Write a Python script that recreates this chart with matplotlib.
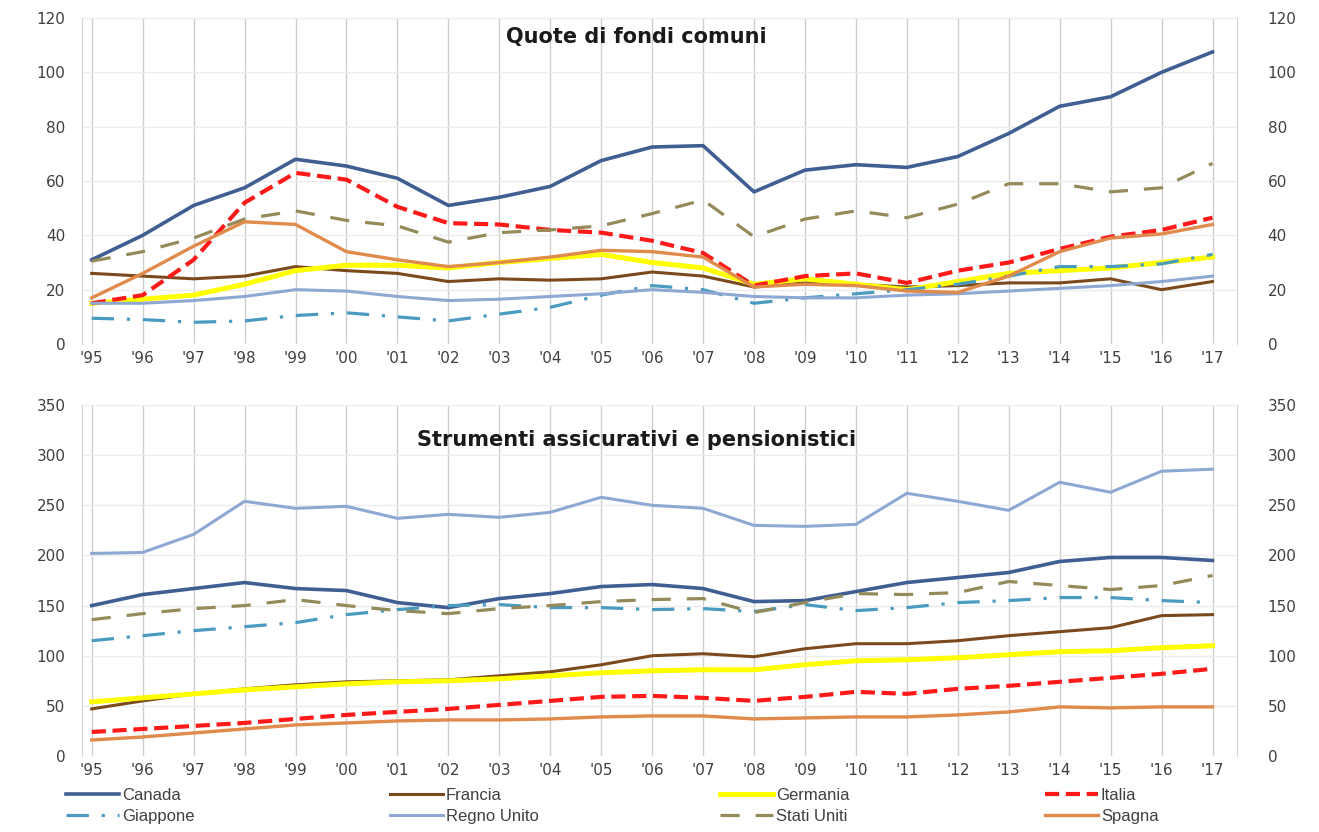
import matplotlib
matplotlib.use("Agg")
import matplotlib.pyplot as plt

years = ["'95", "'96", "'97", "'98", "'99", "'00", "'01", "'02", "'03", "'04", "'05", "'06",
         "'07", "'08", "'09", "'10", "'11", "'12", "'13", "'14", "'15", "'16", "'17"]
countries = ["Canada", "Francia", "Germania", "Italia", "Giappone", "Regno Unito", "Stati Uniti", "Spagna"]

# Quote di fondi comuni
canada_f = [31, 40, 51, 57.5, 68, 65.5, 61, 51, 54, 58, 67.5, 72.5, 73, 56, 64, 66, 65, 69, 77.5, 87.5, 91, 100, 107.5]
francia_f = [26, 25, 24, 25, 28.5, 27, 26, 23, 24, 23.5, 24, 26.5, 25, 21, 22.5, 22, 21, 21.5, 22.5, 22.5, 24, 20, 23]
germania_f = [15, 16.5, 18, 22, 27, 29, 29, 28, 30, 31.5, 33, 30, 28, 22, 24, 22, 20, 23, 26, 27, 28, 30, 32]
italia_f = [15, 18, 31, 52, 63, 60.5, 50.5, 44.5, 44, 42, 41, 38, 33.5, 21.5, 25, 26, 22.5, 27, 30, 35, 39.5, 42, 46.5]
giappone_f = [9.5, 9, 8, 8.5, 10.5, 11.5, 10, 8.5, 11, 13.5, 18, 21.5, 20, 15, 17, 18.5, 20, 22, 25, 28.5, 28.5, 29.5, 33]
regno_f = [15, 15, 16, 17.5, 20, 19.5, 17.5, 16, 16.5, 17.5, 18.5, 20, 19, 17.5, 17, 17, 18, 18.5, 19.5, 20.5, 21.5, 23, 25]
stati_f = [30.5, 34, 39, 46, 49, 45.5, 43.5, 37.5, 41, 42, 43.5, 48, 53, 39.5, 46, 49, 46.5, 51.5, 59, 59, 56, 57.5, 66.5]
spagna_f = [17, 26, 36, 45, 44, 34, 31, 28.5, 30, 32, 34.5, 34, 32, 21, 22, 21.5, 19.5, 19, 25, 34, 39, 40.5, 44]

# Strumenti assicurativi e pensionistici
canada_a = [150, 161, 167, 173, 167, 165, 153, 148, 157, 162, 169, 171, 167, 154, 155, 164, 173, 178, 183, 194, 198, 198, 195]
francia_a = [47, 55, 62, 67, 71, 74, 75, 76, 80, 84, 91, 100, 102, 99, 107, 112, 112, 115, 120, 124, 128, 140, 141]
germania_a = [54, 58, 62, 66, 69, 72, 74, 75, 77, 80, 83, 85, 86, 86, 91, 95, 96, 98, 101, 104, 105, 108, 110]
italia_a = [24, 27, 30, 33, 37, 41, 44, 47, 51, 55, 59, 60, 58, 55, 59, 64, 62, 67, 70, 74, 78, 82, 87]
giappone_a = [115, 120, 125, 129, 133, 141, 146, 150, 151, 148, 148, 146, 147, 144, 151, 145, 148, 153, 155, 158, 158, 155, 153]
regno_a = [202, 203, 221, 254, 247, 249, 237, 241, 238, 243, 258, 250, 247, 230, 229, 231, 262, 254, 245, 273, 263, 284, 286]
stati_a = [136, 142, 147, 150, 156, 150, 145, 142, 147, 150, 154, 156, 157, 143, 153, 162, 161, 163, 174, 170, 166, 170, 180]
spagna_a = [16, 19, 23, 27, 31, 33, 35, 36, 36, 37, 39, 40, 40, 37, 38, 39, 39, 41, 44, 49, 48, 49, 49]

fondi = [canada_f, francia_f, germania_f, italia_f, giappone_f, regno_f, stati_f, spagna_f]
assic = [canada_a, francia_a, germania_a, italia_a, giappone_a, regno_a, stati_a, spagna_a]

styles = {
    "Canada": dict(color="#3f5f93", lw=2.6, ls="-"),
    "Francia": dict(color="#7b4a1c", lw=2.2, ls="-"),
    "Germania": dict(color="#ffff00", lw=3.6, ls="-"),
    "Italia": dict(color="#ff1a1a", lw=3.0, ls=(0, (3.4, 1.6))),
    "Giappone": dict(color="#4a9bbf", lw=2.3, ls=(0, (7, 4, 1, 4))),
    "Regno Unito": dict(color="#8ea8d4", lw=2.2, ls="-"),
    "Stati Uniti": dict(color="#948a5a", lw=2.3, ls=(0, (6, 5))),
    "Spagna": dict(color="#e08a4c", lw=2.4, ls="-"),
}

fig = plt.figure(figsize=(13.19, 8.32), dpi=100)
ax1 = fig.add_axes([0.0622, 0.5865, 0.8756, 0.3919])
ax2 = fig.add_axes([0.0622, 0.0913, 0.8756, 0.4219])

x = list(range(len(years)))
lines = {}
for ax, series, top, step, title, ty in [
    (ax1, fondi, 120, 20, "Quote di fondi comuni", 0.942),
    (ax2, assic, 350, 50, "Strumenti assicurativi e pensionistici", 0.90),
]:
    for name, vals in zip(countries, series):
        st = styles[name]
        (ln,) = ax.plot(x, vals, color=st["color"], lw=st["lw"], linestyle=st["ls"], label=name)
        lines[name] = ln
    ax.set_xlim(-0.19, 22.48)
    ax.set_ylim(0, top)
    ax.set_xticks(x)
    ax.set_xticklabels(years)
    ax.set_yticks(range(0, top + 1, step))
    ax.set_axisbelow(True)
    ax.grid(axis="x", color="#cfcfcf", lw=1)
    ax.grid(axis="y", color="#ececec", lw=1)
    for s in ["top", "bottom"]:
        ax.spines[s].set_visible(False)
    for s in ["left", "right"]:
        ax.spines[s].set_color("#d4d4d4")
    ax.tick_params(length=0, labelsize=11, labelcolor="#404040")
    ax.tick_params(axis="x", pad=5)
    ax.tick_params(axis="y", pad=12)
    sec = ax.secondary_yaxis("right")
    sec.set_yticks(range(0, top + 1, step))
    sec.tick_params(length=0, labelsize=11, labelcolor="#404040", pad=22)
    sec.spines["right"].set_visible(False)
    ax.text(0.48, ty, title, transform=ax.transAxes, ha="center", va="center",
            fontsize=15, fontweight="bold", color="#1a1a1a")

# legend: 4 columns, 2 rows, row-major like the original
cols = [("Canada", "Giappone"), ("Francia", "Regno Unito"), ("Germania", "Stati Uniti"), ("Italia", "Spagna")]
col_x = [66, 390, 720, 1045]
for names, px in zip(cols, col_x):
    leg = fig.legend([lines[n] for n in names], list(names), loc="upper left",
                     bbox_to_anchor=(px / 1319, 1 - 788 / 832), frameon=False,
                     borderpad=0, borderaxespad=0, handlelength=3.2, handletextpad=0.15,
                     labelspacing=0.35, prop={"family": "Liberation Sans", "size": 12})
    for t in leg.get_texts():
        t.set_color("#404040")

fig.savefig("out.png", dpi=100)
